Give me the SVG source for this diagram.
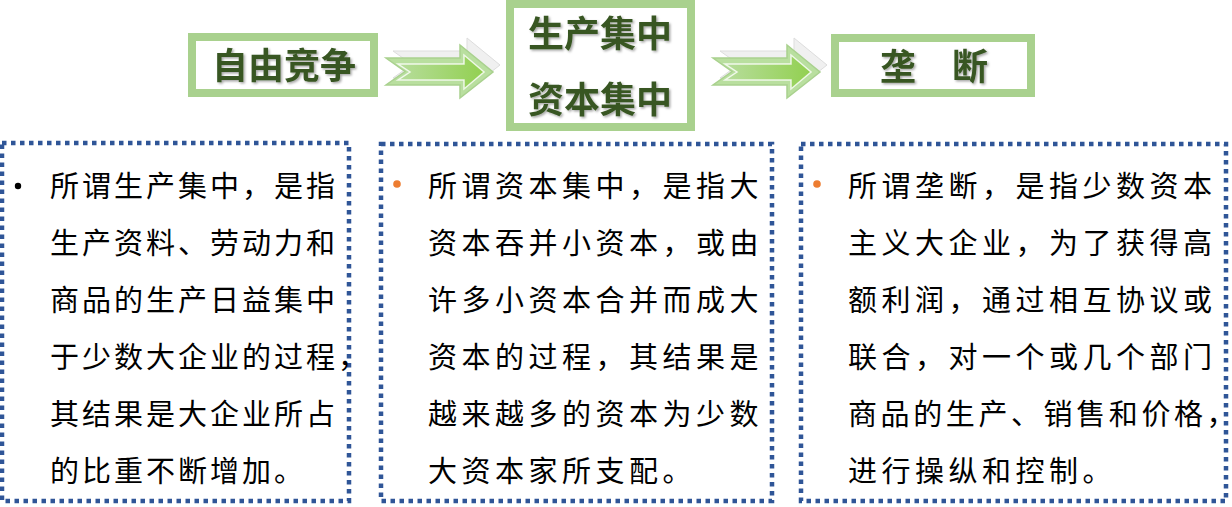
<svg xmlns="http://www.w3.org/2000/svg" width="1232" height="507" viewBox="0 0 1232 507">
<defs>
<filter id="sh" x="-10%" y="-10%" width="130%" height="140%">
<feDropShadow dx="1.5" dy="1.5" stdDeviation="1" flood-color="#000" flood-opacity="0.35"/>
</filter>
<linearGradient id="ag" x1="0" y1="0" x2="1" y2="0">
<stop offset="0" stop-color="#B7DD9C"/>
<stop offset="1" stop-color="#92D050"/>
</linearGradient>
<polygon id="arrow" points="0,13 74,13 74,0 107,27 74,53 74,40 0,40 19,26.5"/>
<polygon id="arrowIn" points="12,19 78,19 78,10 98,27 78,44 78,35 12,35 24,27"/>
</defs>
<style>
.title{font-family:"Noto Sans CJK SC","Noto Sans CJK JP",sans-serif;font-weight:bold;font-size:36px;fill:#385723;}
.gbox{fill:#fff;stroke:#A9D18E;stroke-width:8;}
.dbox{fill:none;stroke:#2F5597;stroke-width:4.5;stroke-dasharray:4.5 4.5;}
.body{font-family:"Noto Sans CJK SC","Noto Sans CJK JP",sans-serif;font-size:29px;fill:#000;}
.a{letter-spacing:3px;}
.b{letter-spacing:4.5px;}
</style>

<g id="connectors">
<g transform="translate(386,45)">
<use href="#arrow" transform="translate(7,-7)" fill="#F0F0F0" stroke="#DDDDDD" stroke-width="1"/>
<use href="#arrow" fill="#B9DF9F" stroke="#A9D18E" stroke-width="1.5"/>
<use href="#arrowIn" fill="url(#ag)" stroke="#FFFFFF" stroke-width="1.5" stroke-opacity="0.8"/>
</g>
<g transform="translate(713,45)">
<use href="#arrow" transform="translate(7,-7)" fill="#F0F0F0" stroke="#DDDDDD" stroke-width="1"/>
<use href="#arrow" fill="#B9DF9F" stroke="#A9D18E" stroke-width="1.5"/>
<use href="#arrowIn" fill="url(#ag)" stroke="#FFFFFF" stroke-width="1.5" stroke-opacity="0.8"/>
</g>
</g>

<g id="node-free">
<rect class="gbox" x="192" y="37" width="182" height="56"/>
<text class="title" x="284" y="79" text-anchor="middle" filter="url(#sh)">自由竞争</text>
</g>

<g id="node-concentration">
<rect class="gbox" x="510" y="4" width="181" height="123"/>
<text class="title" x="600" y="47" text-anchor="middle" filter="url(#sh)">生产集中</text>
<text class="title" x="600" y="113" text-anchor="middle" filter="url(#sh)">资本集中</text>
</g>

<g id="node-monopoly">
<rect class="gbox" x="835" y="38" width="196" height="55"/>
<text class="title" x="934" y="80" text-anchor="middle" filter="url(#sh)">垄　断</text>
</g>

<g id="desc-production">
<rect class="dbox" x="2" y="143" width="347" height="358"/>
<circle cx="18" cy="186" r="3.2" fill="#000"/>
<text class="body a" x="50" y="197">所谓生产集中，是指</text>
<text class="body a" x="50" y="254">生产资料、劳动力和</text>
<text class="body a" x="50" y="311">商品的生产日益集中</text>
<text class="body a" x="50" y="368">于少数大企业的过程，</text>
<text class="body a" x="50" y="425">其结果是大企业所占</text>
<text class="body a" x="50" y="482">的比重不断增加。</text>
</g>

<g id="desc-capital">
<rect class="dbox" x="381" y="144" width="391" height="357"/>
<circle cx="397" cy="184" r="3.8" fill="#ED7D31"/>
<text class="body b" x="428" y="197">所谓资本集中，是指大</text>
<text class="body b" x="428" y="254">资本吞并小资本，或由</text>
<text class="body b" x="428" y="311">许多小资本合并而成大</text>
<text class="body b" x="428" y="368">资本的过程，其结果是</text>
<text class="body b" x="428" y="425">越来越多的资本为少数</text>
<text class="body b" x="428" y="482">大资本家所支配。</text>
</g>

<g id="desc-monopoly">
<rect class="dbox" x="801" y="144" width="425" height="357"/>
<circle cx="817" cy="184" r="3.8" fill="#ED7D31"/>
<text class="body b" x="848" y="197">所谓垄断，是指少数资本</text>
<text class="body b" x="848" y="254">主义大企业，为了获得高</text>
<text class="body b" x="848" y="311">额利润，通过相互协议或</text>
<text class="body b" x="848" y="368">联合，对一个或几个部门</text>
<text class="body" x="848" y="425" style="letter-spacing:3.6px">商品的生产、销售和价格，</text>
<text class="body b" x="848" y="482">进行操纵和控制。</text>
</g>
</svg>
